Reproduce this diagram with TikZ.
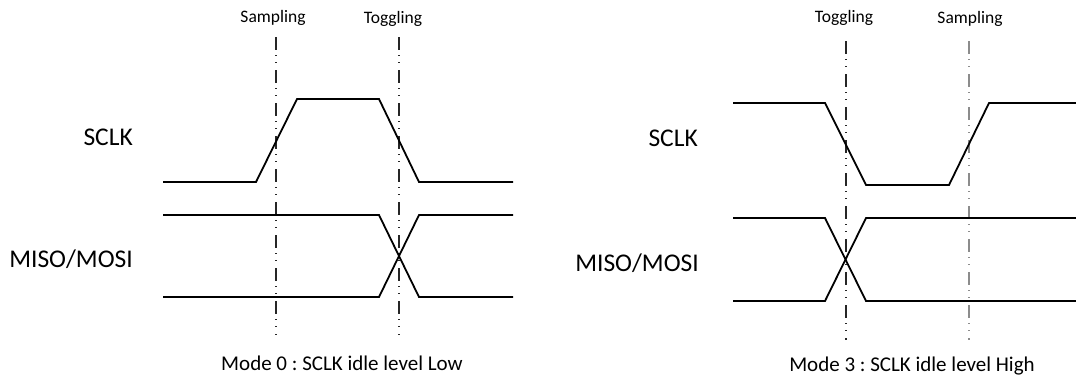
\documentclass[tikz,border=0pt]{standalone}
\usepackage{fontspec}
\setmainfont{Carlito}
\usetikzlibrary{calc}
\usetikzlibrary{positioning}
\frenchspacing

\tikzset{
    wave/.style={line width=1.8pt, black},
    guide/.style={line width=1.1pt, black!85, dash pattern=on 13pt off 5pt on 1pt off 6pt on 1pt off 7pt},
    sigtext/.style={anchor=east, inner sep=0pt, font=\fontsize{25.5}{30}\selectfont},
    edgetext/.style={inner sep=0pt, font=\fontsize{17.5}{21}\selectfont},
    modetext/.style={inner sep=0pt, font=\fontsize{21}{25}\selectfont}
}

\begin{document}
\begin{tikzpicture}[x=1pt, y=-1pt]
                \useasboundingbox (0,0) rectangle (1076,376);

                % Mode 0
                \begin{scope}[shift={(0,0)}]
                    \node[sigtext] (lsclk) at (133,137) {SCLK};
                    \node[sigtext] (lmiso) at (133,259) {MISO/MOSI};

                    % Sampling and toggling edges
                    \draw[guide] (276,37) -- (276,335);
                    \draw[guide] (399,37) -- (399,335);
                    \node[edgetext] (lsampling) at (273,18) {Sampling};
                    \node[edgetext] (ltoggling) at (393,19) {Toggling};

                    % Clock
                    \draw[wave] (163,182) -- (256,182) -- (297,99) -- (379,99) -- (419,182) -- (513,182);

                    % Data
                    \draw[wave] (163,215) -- (379,215) -- (419,297) -- (513,297);
                    \draw[wave] (163,297) -- (379,297) -- (419,215) -- (513,215);

                    \node[modetext] (lmode) at (342,363) {Mode 0 : SCLK idle level Low};
                \end{scope}

                % Mode 3
                \begin{scope}[shift={(570,3)}]
                    \node[sigtext] (rsclk) at (128,135) {SCLK};
                    \node[sigtext] (rmiso) at (129,260) {MISO/MOSI};

                    % Toggling and sampling edges
                    \draw[guide] (276,38) -- (276,337);
                    \draw[guide, black!45] (399,38) -- (399,337);
                    \node[edgetext] (rtoggling) at (274,15) {Toggling};
                    \node[edgetext] (rsampling) at (400,16) {Sampling};

                    % Clock
                    \draw[wave] (163,100) -- (255,100) -- (296,182) -- (379,182) -- (419,100) -- (506,100);

                    % Data
                    \draw[wave] (163,215) -- (255,215) -- (296,298) -- (506,298);
                    \draw[wave] (163,298) -- (255,298) -- (296,215) -- (506,215);

                    \node[modetext] (rmode) at (342,363) {Mode 3 : SCLK idle level High};
                \end{scope}
            \end{tikzpicture}
\end{document}
